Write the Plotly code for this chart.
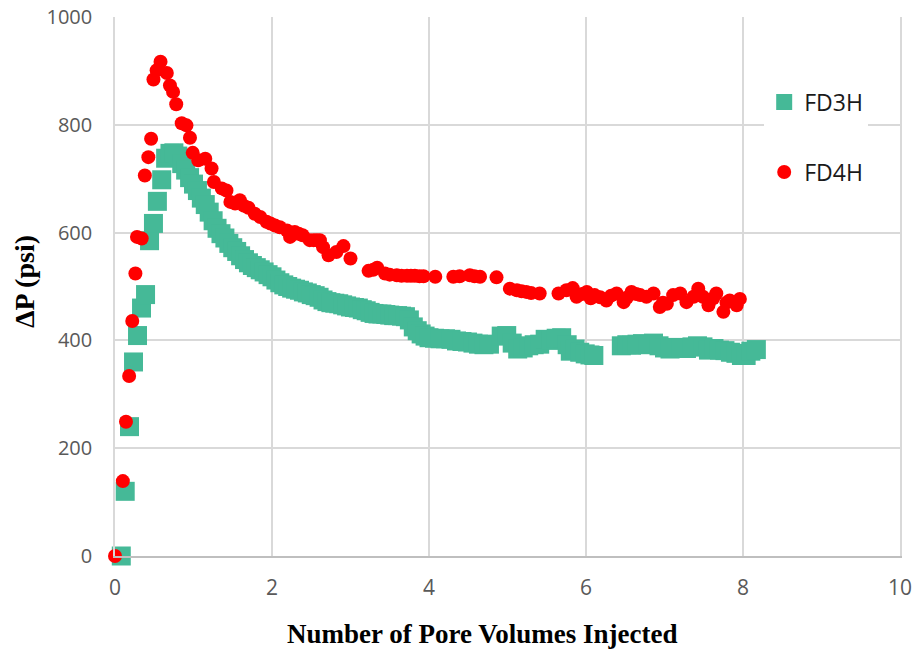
import plotly.graph_objects as go

# ---------------- data ----------------
fd3h_x = [0.08, 0.13, 0.185, 0.236, 0.287, 0.338, 0.389, 0.44, 0.49, 0.54, 0.595, 0.645,
          0.70, 0.75, 0.80, 0.85, 0.90, 0.95, 1.00, 1.05, 1.10, 1.15,
          1.20, 1.25, 1.30, 1.35, 1.40, 1.45, 1.50, 1.55, 1.60, 1.65,
          1.70, 1.75, 1.80, 1.85, 1.90, 1.95, 2.00, 2.05, 2.10, 2.15,
          2.20, 2.25, 2.30, 2.35, 2.40, 2.45, 2.50, 2.55, 2.60, 2.65,
          2.70, 2.75, 2.80, 2.85, 2.90, 2.95, 3.00, 3.05, 3.10, 3.15,
          3.20, 3.25, 3.30, 3.35, 3.40, 3.45, 3.50, 3.55, 3.60, 3.65,
          3.70, 3.75, 3.80, 3.85, 3.90, 3.95, 4.00,
          4.07, 4.14, 4.21, 4.28, 4.35, 4.42, 4.49, 4.56, 4.63, 4.70, 4.77,
          4.92, 4.99, 5.06, 5.13, 5.20, 5.27, 5.34, 5.41, 5.48, 5.55, 5.62, 5.69, 5.76,
          5.80, 5.86, 5.92, 5.99, 6.05, 6.10,
          6.45, 6.52, 6.58, 6.65, 6.72, 6.79, 6.86, 6.93, 7.00, 7.07, 7.14, 7.21, 7.28,
          7.35, 7.42, 7.49, 7.56, 7.63, 7.70, 7.77, 7.84, 7.91, 7.98, 8.04, 8.10, 8.17]
fd3h_y = [0, 120, 240, 360, 409, 460, 485, 585, 617, 658, 698, 738,
          747, 748, 742, 728, 716, 702, 690, 678, 664, 652,
          638, 622, 608, 598, 590, 580, 572, 565, 557, 550,
          544, 539, 535, 531, 527, 522, 518, 512, 507, 503,
          500, 497, 495, 493, 490, 488, 485, 483, 480, 475,
          472, 470, 469, 468, 466, 464, 462, 461, 460, 457,
          455, 452, 450, 449, 449, 448, 447, 446, 446, 445,
          444, 438, 425, 418, 412, 408, 405,
          404, 403, 403, 402, 399, 398, 397, 395, 393, 392, 393,
          408, 409, 395, 384, 386, 390, 392, 393, 402, 400, 404, 405, 392,
          380, 384, 378, 375, 373, 372,
          390, 392, 391, 393, 394, 392, 395, 390, 386, 384, 387, 386, 385,
          388, 390, 388, 382, 385, 382, 381, 378, 376, 372, 372, 380, 383]

fd4h_x = [0.00, 0.10, 0.14, 0.18, 0.22, 0.26, 0.28, 0.34, 0.38, 0.425,
          0.46, 0.49, 0.53, 0.58, 0.66, 0.70, 0.74, 0.78, 0.85, 0.91,
          0.955, 0.99, 1.06, 1.15, 1.23, 1.26, 1.36, 1.42, 1.47, 1.53,
          1.59, 1.64, 1.70, 1.78, 1.85, 1.93, 1.98, 2.04, 2.10, 2.19,
          2.23, 2.29, 2.34, 2.39, 2.48, 2.53, 2.57, 2.61, 2.65, 2.72,
          2.82, 2.91, 3.00, 3.23, 3.29, 3.34, 3.44, 3.50, 3.59, 3.65,
          3.72, 3.77, 3.82, 3.88, 3.93, 4.08, 4.31, 4.39, 4.52, 4.58,
          4.65, 4.86, 5.03, 5.12, 5.18, 5.24, 5.30, 5.41, 5.65, 5.75,
          5.83, 5.88, 5.95, 6.01, 6.06, 6.11, 6.18, 6.26, 6.32, 6.39,
          6.48, 6.52, 6.58, 6.64, 6.69, 6.77, 6.86, 6.94, 6.98, 7.03,
          7.11, 7.20, 7.28, 7.37, 7.43, 7.49, 7.56, 7.62, 7.66, 7.75,
          7.79, 7.83, 7.92, 7.96]
fd4h_y = [0, 139, 249, 334, 436, 524, 592, 589, 706, 740,
          774, 884, 901, 917, 896, 873, 861, 838, 803, 799,
          776, 748, 734, 737, 719, 694, 682, 678, 657, 654,
          660, 650, 646, 635, 629, 620, 617, 613, 610, 604,
          592, 601, 598, 595, 586, 586, 586, 586, 573, 558,
          564, 575, 552, 529, 531, 535, 524, 522, 521, 520,
          520, 520, 520, 519, 519, 518, 518, 519, 521, 519,
          518, 517, 496, 493, 491, 490, 488, 487, 487, 493,
          497, 481, 486, 490, 478, 484, 480, 474, 483, 487,
          471, 479, 490, 486, 484, 481, 487, 462, 470, 468,
          484, 487, 471, 481, 496, 481, 465, 478, 487, 453,
          470, 474, 465, 477]

series_names = ["FD3H", "FD4H"]
x_ticks = [0, 2, 4, 6, 8, 10]
y_ticks = [0, 200, 400, 600, 800, 1000]
x_title = "<b>Number of Pore Volumes Injected</b>"
y_title = "<b>ΔP (psi)</b>"

GREEN = "#45B997"
RED = "#FF0000"
GRID = "#d9d9d9"
TICK_FONT = dict(family="Open Sans", size=20, color="#595959")
XTICK_FONT = dict(family="Open Sans", size=21, color="#595959")

fig = go.Figure()
fig.add_trace(go.Scatter(
    x=fd3h_x, y=fd3h_y, name=series_names[0], mode="markers",
    marker=dict(symbol="square", size=19, color=GREEN, line=dict(width=0)),
    cliponaxis=False, legendgroup="a",
))
fig.add_trace(go.Scatter(
    x=fd4h_x, y=fd4h_y, name=series_names[1], mode="markers",
    marker=dict(symbol="circle", size=14, color=RED, line=dict(width=0)),
    cliponaxis=False, legendgroup="b",
))

fig.update_layout(
    width=914, height=651,
    margin=dict(l=115, r=14, t=17, b=95),
    paper_bgcolor="white", plot_bgcolor="white",
    showlegend=True,
    legend=dict(
        x=0.827, xanchor="left", y=0.882, yanchor="top",
        bgcolor="white", borderwidth=0,
        font=dict(family="Open Sans", size=23, color="#1a1a1a"),
        traceorder="grouped", tracegroupgap=37,
        itemwidth=30,
    ),
    xaxis=dict(
        range=[0, 10], tickvals=x_ticks, ticktext=[str(v) for v in x_ticks],
        showgrid=True, gridcolor=GRID, gridwidth=1.5,
        zeroline=False, showline=True, linecolor="#bfbfbf", linewidth=1.5,
        ticks="", tickfont=XTICK_FONT, ticklabelstandoff=12,
        automargin=False,
    ),
    yaxis=dict(
        range=[0, 1000], tickvals=y_ticks, ticktext=[str(v) for v in y_ticks],
        showgrid=True, gridcolor=GRID, gridwidth=1.5,
        zeroline=False, showline=True, mirror=True, linecolor=GRID, linewidth=1.5,
        ticks="", tickfont=TICK_FONT, ticklabelstandoff=17,
        automargin=False,
    ),
    annotations=[
        dict(text=x_title, xref="paper", yref="paper",
             x=(482 - 115) / 785, y=(556 - 634) / 539,
             xanchor="center", yanchor="middle", showarrow=False,
             font=dict(family="Liberation Serif", size=27, color="black")),
        dict(text=y_title, xref="paper", yref="paper",
             x=(24 - 115) / 785, y=(556 - 282) / 539, textangle=-90,
             xanchor="center", yanchor="middle", showarrow=False,
             font=dict(family="Liberation Serif", size=28, color="black")),
    ],
)

fig.write_html("out.html")
